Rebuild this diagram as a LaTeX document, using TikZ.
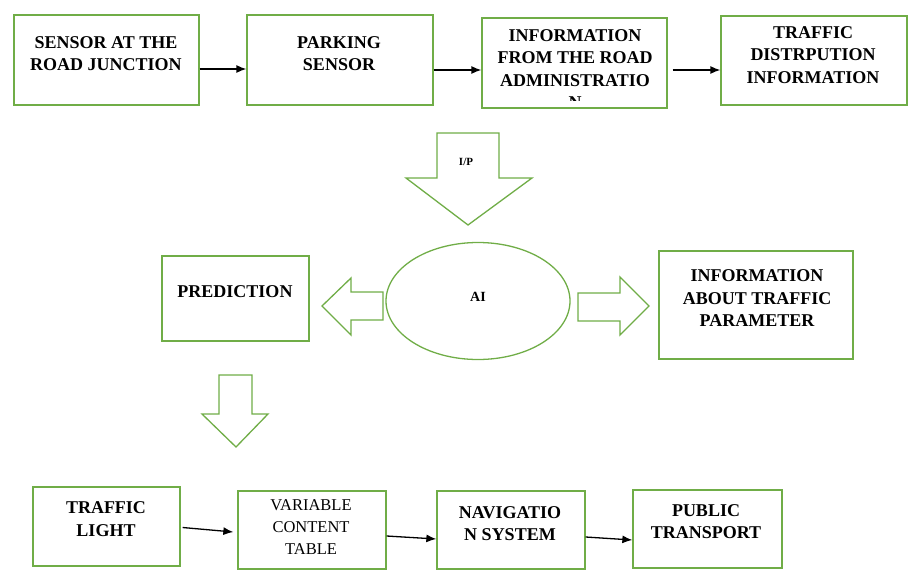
\documentclass[tikz,border=0pt]{standalone}
\usepackage{fontspec}
\setmainfont{Liberation Serif}
\usetikzlibrary{arrows.meta, shapes.geometric}
\definecolor{boxgreen}{RGB}{112,173,71}
\tikzset{
  box/.style={draw=boxgreen, line width=1.3pt, fill=white, inner sep=0pt},
  caps/.style={font=\bfseries\fontsize{18}{22.5}\selectfont, align=center, inner sep=0pt},
  plain/.style={font=\fontsize{16.5}{22}\selectfont, align=center, inner sep=0pt},
  blockarrow/.style={draw=boxgreen, line width=1.3pt, fill=white, line join=miter},
  flow/.style={->, line width=1.3pt},
  >={Latex[length=10pt,width=8pt]}
}
\begin{document}
\begin{tikzpicture}[x=1pt, y=-1pt]
\useasboundingbox (0,0) rectangle (920,586);
% top row
\path (106.5,60) node[box, minimum width=185, minimum height=90] (junction) {};
\path (340,60) node[box, minimum width=186, minimum height=90] (parking) {};
\path (574.5,63) node[box, minimum width=185, minimum height=90] (roadadmin) {};
\path (814,60.5) node[box, minimum width=186, minimum height=89] (disruption) {};
\path (106,53.5) node[caps] (junctiontext) {SENSOR AT THE\\ROAD JUNCTION};
\path (339,53.5) node[caps] (parkingtext) {PARKING\\SENSOR};
\begin{scope}
\clip (482,19) rectangle (667,100);
\path (575,69) node[caps] (roadadmintext) {INFORMATION\\FROM THE ROAD\\ADMINISTRATIO\\N};
\end{scope}
\path (813,55) node[caps] (disruptiontext) {TRAFFIC\\DISTRPUTION\\INFORMATION};
\draw[flow] ([yshift=-9pt]junction.east) -- ([yshift=-9pt]parking.west);
\draw[flow] ([yshift=-10pt]parking.east) -- ([yshift=-7pt]roadadmin.west);
\draw[flow] ([xshift=5pt,yshift=-7pt]roadadmin.east) -- ([yshift=-9.5pt]disruption.west);
% block arrows
\draw[blockarrow] (437,133) -- (499,133) -- (499,178) -- (532,178) -- (468,225)
  -- (406,178) -- (437,178) -- cycle;
\path (466,162) node[font=\bfseries\fontsize{11}{13}\selectfont] (input) {I/P};
\draw[blockarrow] (383,292) -- (351,292) -- (351,278) -- (322,306) -- (351,335)
  -- (351,320) -- (383,320) -- cycle;
\draw[blockarrow] (578,293) -- (620,293) -- (620,277) -- (649,306) -- (620,335)
  -- (620,321) -- (578,321) -- cycle;
\draw[blockarrow] (219,375) -- (252,375) -- (252,414) -- (268,414) -- (236,447)
  -- (202,414) -- (219,414) -- cycle;
% middle row
\path (478,301) node[ellipse, draw=boxgreen, line width=1.3pt, minimum width=184, minimum height=117, inner sep=0pt] (ai) {};
\path (478,297) node[font=\bfseries\fontsize{14}{16}\selectfont] (aitext) {AI};
\path (235.5,298.5) node[box, minimum width=147, minimum height=85] (prediction) {};
\path (235,292) node[caps] (predictiontext) {PREDICTION};
\path (756,305) node[box, minimum width=194, minimum height=108] (parameter) {};
\path (757,298.5) node[caps] (parametertext) {INFORMATION\\ABOUT TRAFFIC\\PARAMETER};
% bottom row
\path (106.5,526.5) node[box, minimum width=147, minimum height=79] (light) {};
\path (312,530) node[box, minimum width=148, minimum height=78] (vct) {};
\path (511,530) node[box, minimum width=148, minimum height=78] (navigation) {};
\path (707.5,529) node[box, minimum width=149, minimum height=78] (transport) {};
\path (106,519) node[caps] (lighttext) {TRAFFIC\\LIGHT};
\path (311,527) node[plain] (vcttext) {VARIABLE\\CONTENT\\TABLE};
\path (510,523.5) node[caps] (navigationtext) {NAVIGATIO\\N SYSTEM};
\path (706,521.5) node[caps] (transporttext) {PUBLIC\\TRANSPORT};
\draw[flow] ([xshift=2pt,yshift=-1pt]light.east) -- ([xshift=-4pt,yshift=-2pt]vct.west);
\draw[flow] ([yshift=-6pt]vct.east) -- ([yshift=-9pt]navigation.west);
\draw[flow] ([yshift=-7pt]navigation.east) -- ([yshift=-11pt]transport.west);
\end{tikzpicture}
\end{document}
